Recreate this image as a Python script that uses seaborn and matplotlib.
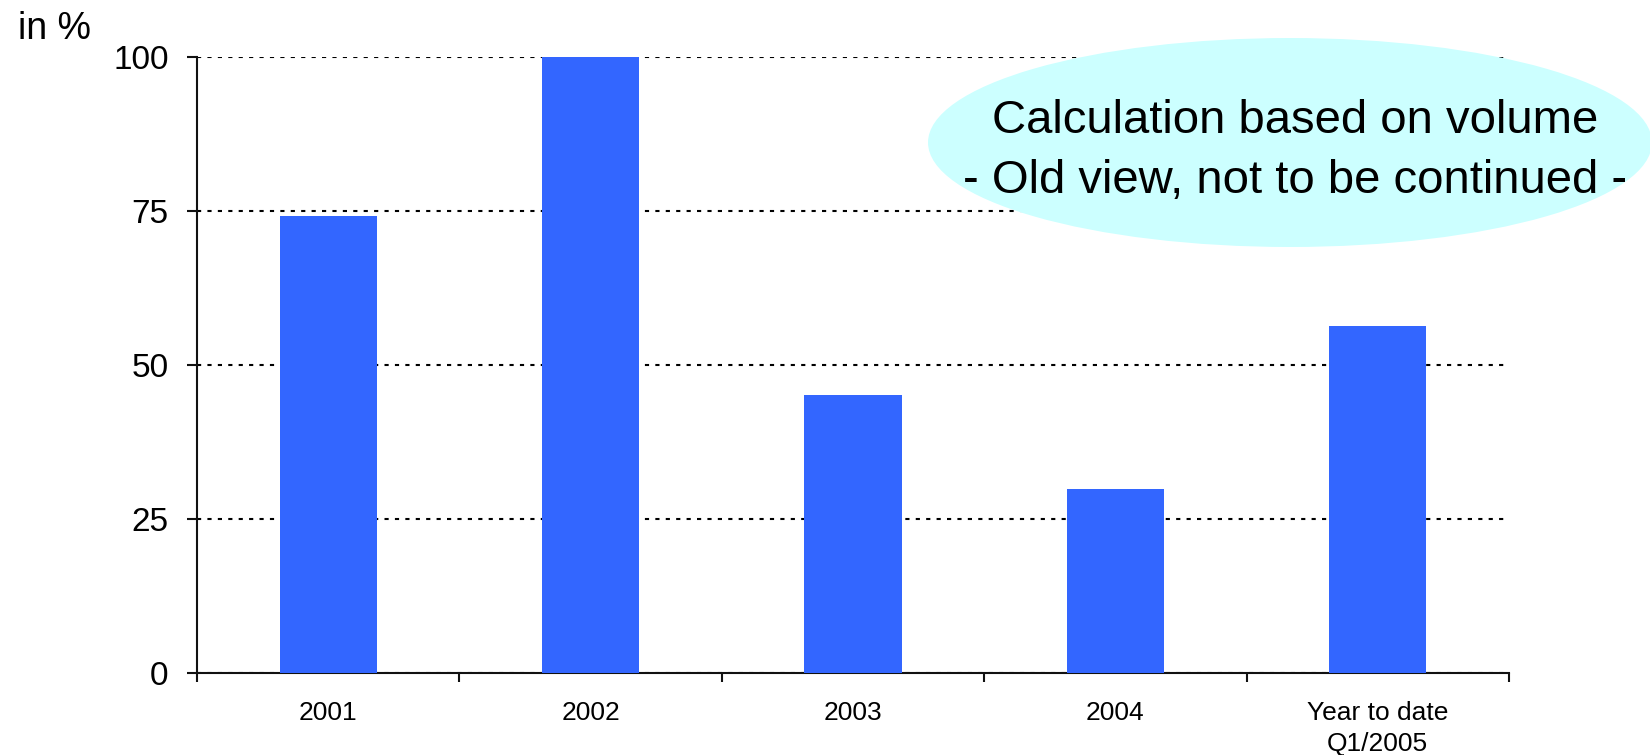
import matplotlib
matplotlib.use("Agg")
import matplotlib.pyplot as plt
import seaborn as sns
import pandas as pd
from matplotlib.patches import Ellipse
from matplotlib.ticker import FixedLocator, NullFormatter

# Chart data
categories = ["2001", "2002", "2003", "2004", "Year to date\nQ1/2005"]
values = [74.1, 100.0, 45.1, 29.8, 56.3]
y_ticks = [0, 25, 50, 75, 100]
unit_label = "in %"
note_lines = ["Calculation based on volume", "- Old view, not to be continued -"]

sns.set_theme(style="white")
plt.rcParams["font.family"] = ["Liberation Sans", "DejaVu Sans"]

W, H = 1650, 755
fig = plt.figure(figsize=(W / 100, H / 100), dpi=100)
fig.patch.set_facecolor("white")

# axes box in pixel terms: x 197..1509, y 56.7..672.7 (from top)
ax = fig.add_axes([197 / W, 1 - 672.7 / H, (1509 - 197) / W, (672.7 - 56.7) / H])
ax.set_facecolor("white")

df = pd.DataFrame({"category": categories, "value": values})
sns.barplot(data=df, x="category", y="value", color="#3366FF", saturation=1,
            width=0.37, linewidth=0, ax=ax, zorder=3)

ax.set_xlim(-0.5, len(categories) - 0.5)
ax.set_ylim(0, 100)
ax.set_xlabel("")
ax.set_ylabel("")

# dotted horizontal gridlines
ax.set_axisbelow(True)
ax.yaxis.grid(True, linestyle=(0, (2, 3)), linewidth=1.5, color="black")
ax.xaxis.grid(False)

# spines
for side in ("top", "right"):
    ax.spines[side].set_visible(False)
for side in ("left", "bottom"):
    ax.spines[side].set_color("#111111")
    ax.spines[side].set_linewidth(1.5)

# y ticks
ax.set_yticks(y_ticks)
ax.set_yticklabels([str(t) for t in y_ticks])
ax.tick_params(axis="y", which="major", direction="out", length=7, width=1.5,
               color="#111111", pad=13.5, labelsize=24, labelcolor="black", left=True)

# x ticks: labels at category centres, tick marks at category boundaries
ax.tick_params(axis="x", which="major", length=0, pad=20.5, labelsize=19,
               labelcolor="black", bottom=True)
ax.xaxis.set_minor_locator(FixedLocator([i - 0.5 for i in range(len(categories) + 1)]))
ax.xaxis.set_minor_formatter(NullFormatter())
ax.tick_params(axis="x", which="minor", direction="out", length=6.5, width=1.5,
               color="#111111", bottom=True)
for lbl in ax.get_xticklabels():
    lbl.set_linespacing(1.35)

# annotation bubble
bubble = Ellipse((1290 / W, 1 - 142.5 / H), 724 / W, 209 / H,
                 transform=fig.transFigure, facecolor="#CCFFFF", edgecolor="none",
                 zorder=10, clip_on=False)
ax.add_patch(bubble)
fig.text(1295 / W, 1 - 192.7 / H, "\n".join(note_lines), ha="center", va="baseline",
         fontsize=34, linespacing=1.47, color="black", zorder=11)

fig.text(18 / W, 1 - 39.3 / H, unit_label, ha="left", va="baseline",
         fontsize=27, color="black")

fig.savefig("out.png", dpi=100)
